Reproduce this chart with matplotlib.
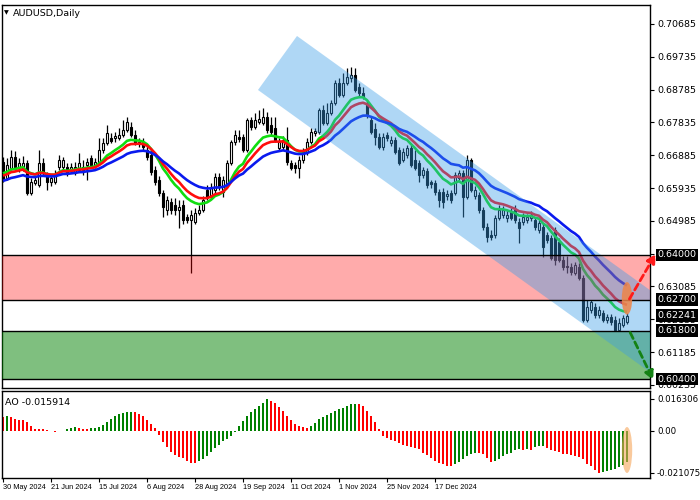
import matplotlib
matplotlib.use("Agg")
import matplotlib.pyplot as plt
from matplotlib.patches import Rectangle, Polygon, Ellipse
from matplotlib.transforms import blended_transform_factory

# ---------------- data ----------------
open_ = [0.6669, 0.6622, 0.6651, 0.6683, 0.6651, 0.6651, 0.6666, 0.6579, 0.6608, 0.6602,
         0.6666, 0.6631, 0.6611, 0.6611, 0.6654, 0.6654, 0.6654, 0.6646, 0.6640, 0.6646,
         0.6654, 0.6660, 0.6681, 0.6660, 0.6666, 0.6704, 0.6724, 0.6739, 0.6739, 0.6739,
         0.6748, 0.6762, 0.6770, 0.6748, 0.6724, 0.6727, 0.6704, 0.6689, 0.6646, 0.6617,
         0.6579, 0.6530, 0.6553, 0.6544, 0.6530, 0.6544, 0.6509, 0.6501, 0.6495, 0.6521,
         0.6530, 0.6588, 0.6567, 0.6588, 0.6625, 0.6582, 0.6608, 0.6666, 0.6727, 0.6742,
         0.6742, 0.6704, 0.6791, 0.6770, 0.6785, 0.6782, 0.6799, 0.6776, 0.6768, 0.6710,
         0.6713, 0.6733, 0.6666, 0.6660, 0.6651, 0.6675, 0.6698, 0.6727, 0.6753, 0.6756,
         0.6819, 0.6782, 0.6811, 0.6840, 0.6898, 0.6863, 0.6898, 0.6912, 0.6921, 0.6887,
         0.6869, 0.6840, 0.6791, 0.6765, 0.6742, 0.6713, 0.6748, 0.6724, 0.6733, 0.6704,
         0.6675, 0.6689, 0.6710, 0.6675, 0.6666, 0.6631, 0.6643, 0.6611, 0.6608, 0.6582,
         0.6582, 0.6570, 0.6579, 0.6579, 0.6622, 0.6637, 0.6567, 0.6675, 0.6570, 0.6573,
         0.6530, 0.6480, 0.6457, 0.6457, 0.6506, 0.6515, 0.6506, 0.6524, 0.6530, 0.6495,
         0.6495, 0.6501, 0.6506, 0.6501, 0.6472, 0.6480, 0.6457, 0.6448, 0.6472, 0.6437,
         0.6385, 0.6367, 0.6364, 0.6347, 0.6364, 0.6332, 0.6211, 0.6240, 0.6249, 0.6226,
         0.6231, 0.6211, 0.6220, 0.6211, 0.6182, 0.6197, 0.6205]
high = [0.6683, 0.6681, 0.6704, 0.6701, 0.6681, 0.6686, 0.6675, 0.6622, 0.6628, 0.6704,
        0.6681, 0.6640, 0.6631, 0.6646, 0.6689, 0.6683, 0.6666, 0.6666, 0.6669, 0.6695,
        0.6675, 0.6681, 0.6689, 0.6681, 0.6739, 0.6739, 0.6776, 0.6753, 0.6756, 0.6768,
        0.6791, 0.6799, 0.6785, 0.6762, 0.6739, 0.6739, 0.6716, 0.6704, 0.6657, 0.6628,
        0.6588, 0.6570, 0.6564, 0.6564, 0.6559, 0.6559, 0.6518, 0.6530, 0.6535, 0.6544,
        0.6570, 0.6602, 0.6608, 0.6637, 0.6637, 0.6628, 0.6675, 0.6733, 0.6762, 0.6762,
        0.6750, 0.6797, 0.6799, 0.6811, 0.6819, 0.6825, 0.6813, 0.6799, 0.6799, 0.6739,
        0.6745, 0.6770, 0.6675, 0.6669, 0.6686, 0.6710, 0.6739, 0.6768, 0.6768, 0.6825,
        0.6834, 0.6840, 0.6848, 0.6906, 0.6912, 0.6927, 0.6941, 0.6944, 0.6941, 0.6898,
        0.6887, 0.6848, 0.6799, 0.6782, 0.6753, 0.6753, 0.6756, 0.6745, 0.6742, 0.6713,
        0.6710, 0.6718, 0.6718, 0.6704, 0.6675, 0.6654, 0.6651, 0.6617, 0.6617, 0.6591,
        0.6593, 0.6588, 0.6588, 0.6640, 0.6646, 0.6646, 0.6689, 0.6681, 0.6599, 0.6582,
        0.6538, 0.6492, 0.6472, 0.6515, 0.6544, 0.6541, 0.6530, 0.6535, 0.6544, 0.6506,
        0.6521, 0.6518, 0.6527, 0.6509, 0.6501, 0.6492, 0.6466, 0.6457, 0.6480, 0.6448,
        0.6396, 0.6396, 0.6376, 0.6379, 0.6376, 0.6341, 0.6269, 0.6269, 0.6260, 0.6252,
        0.6240, 0.6229, 0.6229, 0.6223, 0.6217, 0.6226, 0.6231]
low = [0.6611, 0.6617, 0.6646, 0.6646, 0.6640, 0.6643, 0.6573, 0.6573, 0.6602, 0.6596,
       0.6631, 0.6588, 0.6599, 0.6605, 0.6646, 0.6649, 0.6628, 0.6637, 0.6631, 0.6640,
       0.6631, 0.6617, 0.6654, 0.6651, 0.6660, 0.6695, 0.6718, 0.6724, 0.6727, 0.6733,
       0.6742, 0.6756, 0.6742, 0.6718, 0.6713, 0.6704, 0.6675, 0.6631, 0.6602, 0.6570,
       0.6509, 0.6515, 0.6518, 0.6515, 0.6477, 0.6489, 0.6492, 0.6347, 0.6489, 0.6515,
       0.6524, 0.6559, 0.6561, 0.6579, 0.6588, 0.6567, 0.6602, 0.6660, 0.6718, 0.6727,
       0.6698, 0.6698, 0.6762, 0.6765, 0.6779, 0.6776, 0.6753, 0.6748, 0.6727, 0.6704,
       0.6704, 0.6660, 0.6646, 0.6637, 0.6622, 0.6666, 0.6689, 0.6721, 0.6745, 0.6750,
       0.6776, 0.6776, 0.6805, 0.6834, 0.6857, 0.6857, 0.6893, 0.6901, 0.6872, 0.6860,
       0.6851, 0.6797, 0.6750, 0.6718, 0.6707, 0.6704, 0.6730, 0.6716, 0.6692, 0.6660,
       0.6669, 0.6681, 0.6654, 0.6646, 0.6611, 0.6622, 0.6593, 0.6593, 0.6573, 0.6538,
       0.6535, 0.6559, 0.6550, 0.6573, 0.6617, 0.6509, 0.6561, 0.6582, 0.6561, 0.6521,
       0.6472, 0.6437, 0.6443, 0.6448, 0.6501, 0.6506, 0.6495, 0.6501, 0.6492, 0.6434,
       0.6486, 0.6492, 0.6498, 0.6472, 0.6463, 0.6393, 0.6434, 0.6385, 0.6370, 0.6379,
       0.6356, 0.6347, 0.6341, 0.6341, 0.6327, 0.6205, 0.6205, 0.6231, 0.6217, 0.6217,
       0.6205, 0.6202, 0.6197, 0.6179, 0.6179, 0.6191, 0.6199]
close = [0.6617, 0.6660, 0.6683, 0.6654, 0.6666, 0.6666, 0.6579, 0.6611, 0.6617, 0.6666,
         0.6637, 0.6611, 0.6622, 0.6631, 0.6675, 0.6675, 0.6637, 0.6654, 0.6654, 0.6666,
         0.6646, 0.6669, 0.6660, 0.6669, 0.6704, 0.6724, 0.6753, 0.6730, 0.6745, 0.6748,
         0.6762, 0.6785, 0.6748, 0.6724, 0.6727, 0.6713, 0.6683, 0.6640, 0.6611, 0.6579,
         0.6538, 0.6559, 0.6530, 0.6530, 0.6538, 0.6501, 0.6501, 0.6515, 0.6521, 0.6530,
         0.6559, 0.6567, 0.6596, 0.6625, 0.6596, 0.6617, 0.6666, 0.6727, 0.6748, 0.6736,
         0.6704, 0.6791, 0.6770, 0.6791, 0.6794, 0.6799, 0.6762, 0.6756, 0.6733, 0.6727,
         0.6733, 0.6669, 0.6651, 0.6651, 0.6675, 0.6698, 0.6727, 0.6756, 0.6759, 0.6819,
         0.6782, 0.6811, 0.6840, 0.6898, 0.6863, 0.6898, 0.6915, 0.6921, 0.6877, 0.6869,
         0.6857, 0.6805, 0.6756, 0.6742, 0.6713, 0.6742, 0.6739, 0.6733, 0.6698, 0.6666,
         0.6698, 0.6710, 0.6660, 0.6651, 0.6631, 0.6646, 0.6602, 0.6605, 0.6582, 0.6559,
         0.6553, 0.6576, 0.6559, 0.6631, 0.6637, 0.6567, 0.6675, 0.6588, 0.6588, 0.6530,
         0.6480, 0.6451, 0.6451, 0.6506, 0.6530, 0.6530, 0.6515, 0.6506, 0.6501, 0.6477,
         0.6509, 0.6509, 0.6515, 0.6480, 0.6492, 0.6422, 0.6443, 0.6390, 0.6385, 0.6385,
         0.6364, 0.6364, 0.6350, 0.6370, 0.6332, 0.6211, 0.6249, 0.6263, 0.6226, 0.6240,
         0.6211, 0.6220, 0.6205, 0.6182, 0.6202, 0.6217, 0.62241]

ao_values = [0.00718, 0.00733, 0.00718, 0.00624, 0.00577, 0.00530, 0.00468, 0.00250, 0.00125, 0.00109,
             0.00078, 0.00047, -0.00020, -0.00031, -0.00010, 0.00016, 0.00094, 0.00156, 0.00203, 0.00156,
             0.00125, 0.00117, 0.00140, 0.00172, 0.00203, 0.00312, 0.00468, 0.00624, 0.00749, 0.00842,
             0.00905, 0.00936, 0.00952, 0.00936, 0.00874, 0.00749, 0.00562, 0.00374, 0.00156, -0.00218,
             -0.00562, -0.00811, -0.01045, -0.01201, -0.01310, -0.01388, -0.01498, -0.01622, -0.01638, -0.01498,
             -0.01435, -0.01279, -0.01076, -0.00874, -0.00686, -0.00530, -0.00406, -0.00250, -0.00062, 0.00250,
             0.00499, 0.00749, 0.00967, 0.01123, 0.01264, 0.01404, 0.01607, 0.01529, 0.01404, 0.01217,
             0.00998, 0.00780, 0.00562, 0.00374, 0.00250, 0.00187, 0.00156, 0.00250, 0.00406, 0.00593,
             0.00718, 0.00811, 0.00905, 0.01030, 0.01092, 0.01154, 0.01264, 0.01357, 0.01388, 0.01373,
             0.01248, 0.01030, 0.00780, 0.00468, 0.00094, -0.00250, -0.00343, -0.00452, -0.00530, -0.00608,
             -0.00686, -0.00764, -0.00811, -0.00842, -0.00905, -0.01123, -0.01232, -0.01342, -0.01498, -0.01622,
             -0.01685, -0.01747, -0.01794, -0.01669, -0.01544, -0.01435, -0.01279, -0.01186, -0.01092, -0.01108,
             -0.01154, -0.01342, -0.01544, -0.01529, -0.01435, -0.01279, -0.01154, -0.01092, -0.00936, -0.00905,
             -0.00936, -0.00905, -0.00936, -0.00811, -0.00780, -0.00764, -0.00842, -0.00936, -0.00998, -0.01076,
             -0.01154, -0.01186, -0.01232, -0.01279, -0.01310, -0.01435, -0.01654, -0.01778, -0.01966, -0.02108,
             -0.02060, -0.02010, -0.01960, -0.01900, -0.01800, -0.01700, -0.015914]

ma_spans = [11, 15, 26]                 # green, red, blue moving averages
ma_seeds = [0.6640, 0.6631, 0.6614]     # values just before the first bar
ma_colors = ['#10dd10', '#ff0d0d', '#0a1aee']

price_ticks = [0.70685, 0.69735, 0.68785, 0.67835, 0.66885, 0.65935, 0.64985,
               0.64035, 0.63085, 0.62135, 0.61185, 0.60235]
ao_ticks = [0.016306, 0.0, -0.021075]
ao_tick_labels = ['0.016306', '0.00', '-0.021075']

date_bars = [0, 12, 24, 36, 48, 60, 72, 84, 96, 108]
date_labels = ['30 May 2024', '21 Jun 2024', '15 Jul 2024', '6 Aug 2024', '28 Aug 2024',
               '19 Sep 2024', '11 Oct 2024', '1 Nov 2024', '25 Nov 2024', '17 Dec 2024']

resistance_zone = (0.6270, 0.6400)
support_zone = (0.6040, 0.6180)
level_labels = [0.64000, 0.62700, 0.61800, 0.60400]
last_price = 0.62241
ao_last = -0.015914

channel_bars = [63.75, 73.5, 179.75, 170.0]
channel_prices = [0.68774, 0.70338, 0.61476, 0.59912]

# ---------------- figure ----------------
W, H = 700, 500
fig = plt.figure(figsize=(7, 5), dpi=100)
fig.patch.set_facecolor('white')


def frame(x0, y0, x1, y1):
    return [x0 / W, 1 - y1 / H, (x1 - x0) / W, (y1 - y0) / H]


ax = fig.add_axes(frame(2, 5, 650, 388))
ax2 = fig.add_axes(frame(2, 391, 650, 478))
n = len(close)
xs = list(range(n))
for a in (ax, ax2):
    a.set_xlim(-0.25, 161.75)
    for s in a.spines.values():
        s.set_linewidth(1.0)
        s.set_color('black')
ax.set_ylim(0.60143, 0.71235)
ax2.set_ylim(-0.02375, 0.0202)

# candles
for i in xs:
    o, h, l, c = open_[i], high[i], low[i], close[i]
    ax.plot([i, i], [l, h], color='black', lw=0.9, zorder=2, solid_capstyle='butt')
    bottom = min(o, c)
    hgt = max(abs(c - o), 0.00008)
    ax.add_patch(Rectangle((i - 0.34, bottom), 0.68, hgt,
                           facecolor='white' if c >= o else 'black',
                           edgecolor='black', lw=0.8, zorder=2.1))

# moving averages
for span, seed, col in zip(ma_spans, ma_seeds, ma_colors):
    alpha = 2.0 / (span + 1)
    v = seed
    vals = []
    for c in close:
        v = v + alpha * (c - v)
        vals.append(v)
    ax.plot(xs, vals, color=col, lw=1.9, zorder=3, solid_capstyle='butt')

# zones
ax.axhspan(*resistance_zone, facecolor=(1, 0, 0), alpha=0.33, lw=0, zorder=4)
ax.axhspan(*support_zone, facecolor=(0, 0.5, 0), alpha=0.5, lw=0, zorder=4)
for lv in level_labels:
    ax.axhline(lv, color='black', lw=1.0, zorder=6)

# channel
chan = Polygon(list(zip(channel_bars, channel_prices)), closed=True,
               facecolor=(0.224, 0.616, 0.91), alpha=0.4, lw=0, zorder=5)
chan.set_clip_path(Rectangle((2 / W, 1 - 388 / H), 1 - 2 / W, (388 - 5) / H,
                             transform=fig.transFigure))
ax.add_patch(chan)

# right price axis
ax.set_xticks([])
ax.yaxis.tick_right()
ax.set_yticks(price_ticks)
ax.set_yticklabels([f"{t:.5f}" for t in price_ticks])
ax.tick_params(axis='y', length=3, width=0.8, pad=2.5, labelsize=6.8, colors='black')

tr = blended_transform_factory(ax.transAxes, ax.transData)
for lv in level_labels + [last_price]:
    ax.text(1.0115, lv, f"{lv:.5f}", transform=tr, color='white', fontsize=6.8,
            va='center', ha='left', zorder=4.5, clip_on=False,
            bbox=dict(facecolor='black', edgecolor='none', pad=1.3))

# arrows
ax.annotate("", xy=(163.2, 0.6403), xytext=(156.6, 0.6272), annotation_clip=False,
            arrowprops=dict(arrowstyle='-|>', color='#ff1a1a', lw=2.0,
                            linestyle=(0, (2.4, 1.4)), mutation_scale=13, shrinkA=0, shrinkB=0),
            zorder=8)
ax.annotate("", xy=(162.6, 0.6037), xytext=(156.8, 0.6175), annotation_clip=False,
            arrowprops=dict(arrowstyle='-|>', color='#148214', lw=2.0,
                            linestyle=(0, (2.4, 1.4)), mutation_scale=13, shrinkA=0, shrinkB=0),
            zorder=8)

# highlight on last bar
ax.add_patch(Ellipse((156, 0.6274), 2.6, 0.0094, facecolor='#ee8548', alpha=0.85, lw=0, zorder=7))

# title
ax.text(0.003, 0.987, "\u25BC", transform=ax.transAxes, fontsize=4.5, va='top', ha='left',
        family='DejaVu Sans')
ax.text(0.017, 0.990, "AUDUSD,Daily", transform=ax.transAxes, fontsize=6.8, va='top', ha='left',
        family='DejaVu Sans')

# AO panel
colors = []
for i, v in enumerate(ao_values):
    if i > 0 and v > ao_values[i - 1]:
        colors.append('#008000')
    else:
        colors.append('#ff0000')
ax2.bar(xs, ao_values, width=0.72, color=colors, lw=0, zorder=2)
ax2.add_patch(Ellipse((156, -0.0096), 2.6, 0.0232, facecolor='#f5a55a', alpha=0.6, lw=0, zorder=5))
ax2.yaxis.tick_right()
ax2.set_yticks(ao_ticks)
ax2.set_yticklabels(ao_tick_labels)
ax2.tick_params(axis='y', length=3, width=0.8, pad=2.0, labelsize=6.2, colors='black')
ax2.set_xticks(date_bars)
ax2.set_xticklabels(date_labels, family='Liberation Sans')
ax2.tick_params(axis='x', length=3, width=0.8, pad=1.5, labelsize=5.3, colors='black')
for lbl in ax2.get_xticklabels():
    lbl.set_ha('left')
ax2.text(0.005, 0.92, f"AO {ao_last}", transform=ax2.transAxes, fontsize=6.8, va='top',
         ha='left', family='DejaVu Sans')

fig.savefig("out.png", dpi=100)
